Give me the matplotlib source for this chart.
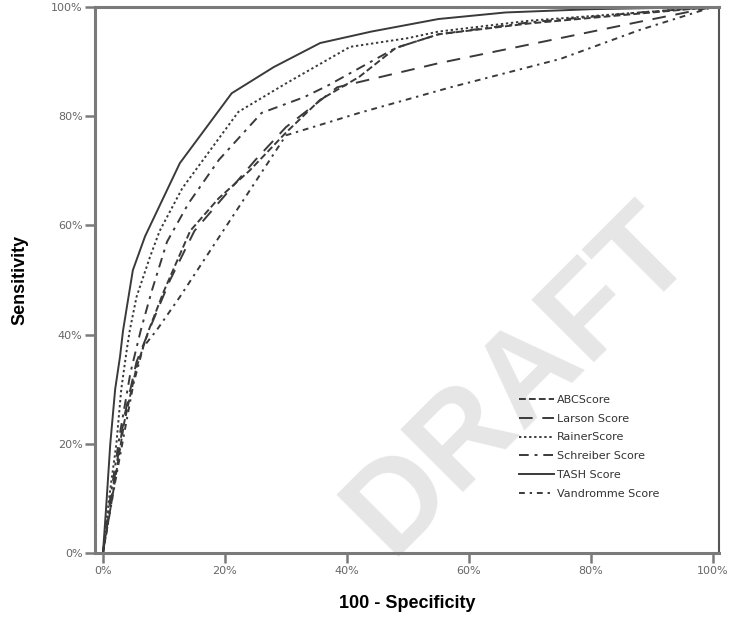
import matplotlib
matplotlib.use("Agg")
import matplotlib.pyplot as plt
from matplotlib.ticker import PercentFormatter

# ROC curve points: (1 - specificity, sensitivity)
abc_x = [0, 0.015, 0.035, 0.055, 0.075, 0.10, 0.143, 0.19, 0.24, 0.30, 0.356, 0.42, 0.48, 0.55, 0.70, 0.88, 1.0]
abc_y = [0, 0.10, 0.24, 0.34, 0.408, 0.48, 0.59, 0.65, 0.70, 0.77, 0.83, 0.872, 0.925, 0.95, 0.97, 0.988, 1.0]

larson_x = [0, 0.015, 0.035, 0.055, 0.08, 0.11, 0.15, 0.20, 0.25, 0.30, 0.384, 0.55, 0.88, 1.0]
larson_y = [0, 0.11, 0.25, 0.35, 0.42, 0.50, 0.59, 0.655, 0.72, 0.78, 0.853, 0.897, 0.973, 1.0]

rainer_x = [0, 0.01, 0.022, 0.03, 0.039, 0.044, 0.055, 0.077, 0.093, 0.13, 0.222, 0.30, 0.405, 0.50, 0.55, 0.70, 0.88, 1.0]
rainer_y = [0, 0.10, 0.20, 0.30, 0.372, 0.408, 0.469, 0.542, 0.59, 0.668, 0.808, 0.86, 0.927, 0.943, 0.955, 0.975, 0.99, 1.0]

schreiber_x = [0, 0.012, 0.028, 0.045, 0.062, 0.08, 0.105, 0.14, 0.19, 0.26, 0.33, 0.37, 0.48, 0.55, 0.70, 0.88, 1.0]
schreiber_y = [0, 0.10, 0.22, 0.33, 0.408, 0.48, 0.57, 0.64, 0.72, 0.806, 0.835, 0.857, 0.925, 0.95, 0.972, 0.99, 1.0]

tash_x = [0, 0.005, 0.012, 0.02, 0.028, 0.033, 0.049, 0.069, 0.126, 0.211, 0.28, 0.356, 0.44, 0.55, 0.66, 0.80, 1.0]
tash_y = [0, 0.08, 0.20, 0.30, 0.36, 0.408, 0.518, 0.58, 0.714, 0.842, 0.89, 0.934, 0.955, 0.978, 0.99, 0.996, 1.0]

vandromme_x = [0, 0.02, 0.04, 0.05, 0.066, 0.088, 0.126, 0.187, 0.25, 0.30, 0.42, 0.57, 0.75, 0.88, 1.0]
vandromme_y = [0, 0.13, 0.25, 0.31, 0.377, 0.408, 0.469, 0.573, 0.68, 0.765, 0.806, 0.853, 0.905, 0.958, 1.0]

labels = ["ABCScore", "Larson Score", "RainerScore", "Schreiber Score", "TASH Score", "Vandromme Score"]
xticks = [0, 0.2, 0.4, 0.6, 0.8, 1.0]

fig = plt.figure(figsize=(7.31, 6.19), dpi=100)
ax = fig.add_axes([0.130, 0.1066, 0.8536, 0.8821])
ax.set_facecolor("none")

# watermark behind everything
fig.text(0.711, 0.386, "DRAFT", rotation=45, fontsize=92, fontweight="bold",
         color="#e6e6e6", ha="center", va="center", zorder=-5,
         family="Liberation Sans")

lc = "#3a3a3a"
lw = 1.4
ax.plot(abc_x, abc_y, color=lc, lw=lw, dashes=(3.5, 1.6), label=labels[0])
ax.plot(larson_x, larson_y, color=lc, lw=lw, dashes=(7, 5), label=labels[1])
ax.plot(rainer_x, rainer_y, color=lc, lw=lw, dashes=(1.2, 1.4), label=labels[2])
ax.plot(schreiber_x, schreiber_y, color=lc, lw=lw, dashes=(5, 3, 1.5, 3), label=labels[3])
ax.plot(tash_x, tash_y, color=lc, lw=lw, label=labels[4])
ax.plot(vandromme_x, vandromme_y, color=lc, lw=lw, dashes=(3, 2.5, 1.2, 2.5), label=labels[5])

ax.set_xlim(-0.013, 1.0098)
ax.set_ylim(0, 1)
ax.set_xticks(xticks)
ax.set_yticks(xticks)
ax.xaxis.set_major_formatter(PercentFormatter(xmax=1, decimals=0))
ax.yaxis.set_major_formatter(PercentFormatter(xmax=1, decimals=0))

for side in ["left", "bottom", "top"]:
    ax.spines[side].set_color("#7a7a7a")
    ax.spines[side].set_linewidth(2.2)
ax.spines["right"].set_color("#555555")
ax.spines["right"].set_linewidth(1.5)

ax.tick_params(axis="both", direction="out", length=7, width=1.8, color="#7a7a7a",
               labelsize=8, labelcolor="#666666", pad=2)

ax.set_xlabel("100 - Specificity", fontsize=13, fontweight="bold", family="Liberation Sans", labelpad=14)
ax.set_ylabel("Sensitivity", fontsize=13, fontweight="bold", family="Liberation Sans", labelpad=16)

leg = ax.legend(loc="upper left", bbox_to_anchor=(0.679, 0.29), frameon=False,
                fontsize=8, handlelength=3.2, handletextpad=0.25, labelspacing=0.8,
                borderpad=0, borderaxespad=0)
for t in leg.get_texts():
    t.set_color("#333333")

fig.savefig("out.png", dpi=100)
